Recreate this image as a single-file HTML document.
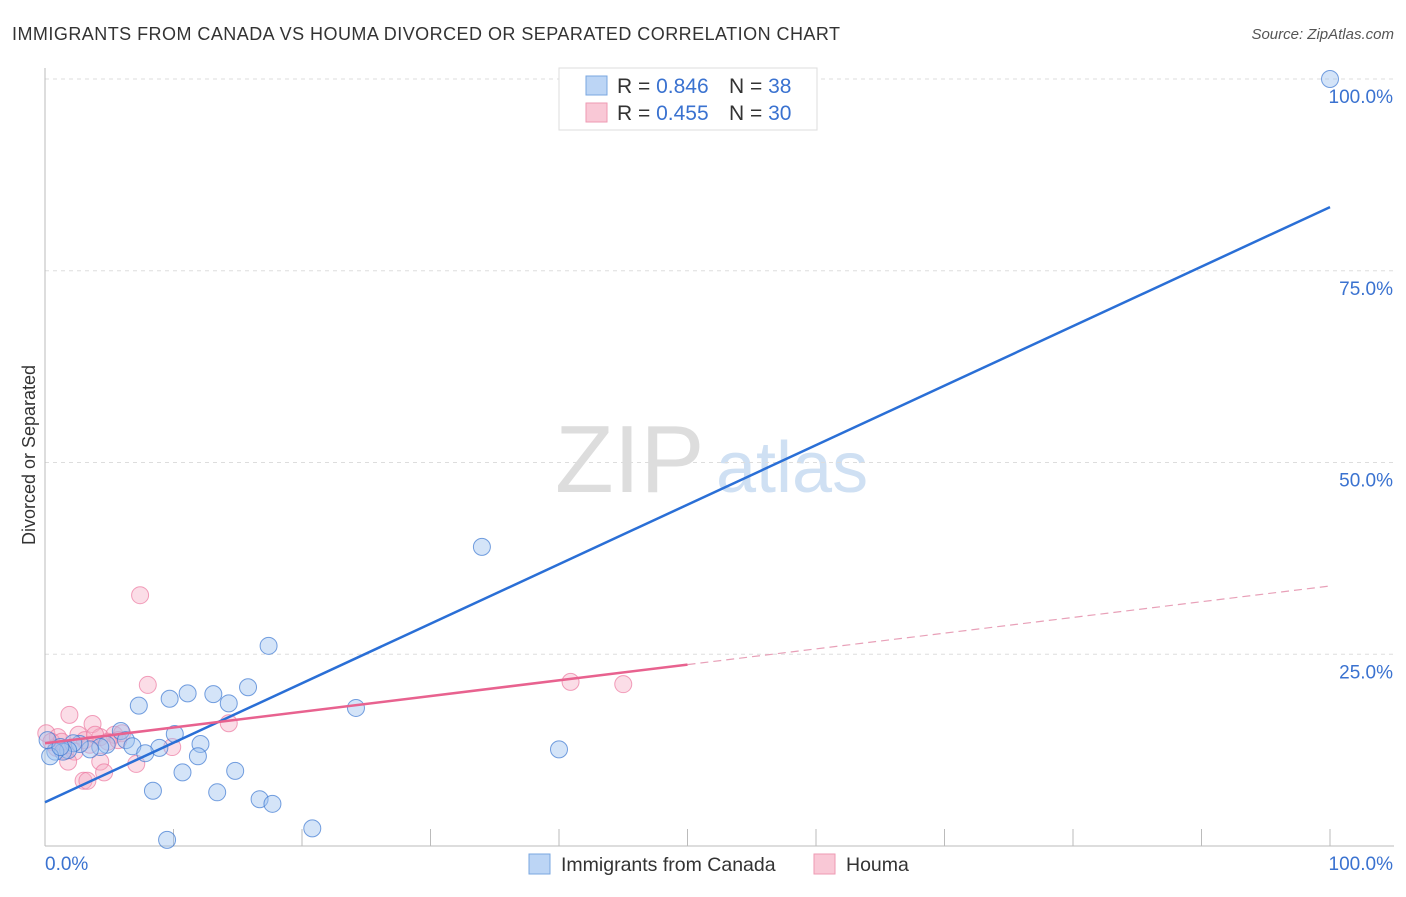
<!DOCTYPE html>
<html><head><meta charset="utf-8"><style>
body{margin:0;background:#fff;font-family:"Liberation Sans",sans-serif;}
svg text{font-family:"Liberation Sans",sans-serif;}
</style></head><body>
<svg id="chart" width="1406" height="892" xmlns="http://www.w3.org/2000/svg">
<text x="12" y="40" font-size="18" fill="#333" textLength="828">IMMIGRANTS FROM CANADA VS HOUMA DIVORCED OR SEPARATED CORRELATION CHART</text>
<text x="1394" y="39" font-size="15" fill="#555" font-style="italic" text-anchor="end">Source: ZipAtlas.com</text>
<text x="35" y="455" font-size="18" fill="#333" text-anchor="middle" transform="rotate(-90 35 455)">Divorced or Separated</text>
<text x="555" y="492" font-size="96" fill="#ddd" font-family="Liberation Serif">ZIP</text>
<text x="716" y="492" font-size="72" fill="#cfe0f3">atlas</text>
<g id="grid"></g><g id="pts"></g><g id="lines"></g>
<g>
<rect x="559" y="68" width="258" height="62" fill="#fff" stroke="#ddd"/>
<rect x="586" y="76" width="21" height="19" fill="#bcd5f5" stroke="#7aa7e0"/>
<rect x="586" y="103" width="21" height="19" fill="#f9c8d6" stroke="#ee9ab3"/>
<text x="617" y="93" font-size="21" fill="#333">R = <tspan fill="#3a72d0">0.846</tspan></text>
<text x="729" y="93" font-size="21" fill="#333">N = <tspan fill="#3a72d0">38</tspan></text>
<text x="617" y="120" font-size="21" fill="#333">R = <tspan fill="#3a72d0">0.455</tspan></text>
<text x="729" y="120" font-size="21" fill="#333">N = <tspan fill="#3a72d0">30</tspan></text>
</g>
<g>
<rect x="529" y="854" width="21" height="20" fill="#bcd5f5" stroke="#7aa7e0"/>
<text x="561" y="871" font-size="19.5" fill="#333">Immigrants from Canada</text>
<rect x="814" y="854" width="21" height="20" fill="#f9c8d6" stroke="#ee9ab3"/>
<text x="846" y="871" font-size="19.5" fill="#333">Houma</text>
</g>
</svg>
<script>
const canadaX=[100,34.0,17.4,40.0,24.2,15.8,11.1,13.1,9.7,7.3,14.3,10.1,12.1,5.9,6.3,6.8,8.9,7.8,11.9,10.7,14.8,8.4,13.4,16.7,17.7,20.8,9.5,4.8,4.3,3.5,2.7,2.2,1.8,1.4,0.8,0.4,0.2,1.2];
const canadaY=[100,39.0,26.1,12.6,18.0,20.7,19.9,19.8,19.2,18.3,18.6,14.6,13.3,15.0,13.8,13.0,12.8,12.1,11.7,9.6,9.8,7.2,7.0,6.1,5.5,2.3,0.8,13.2,12.9,12.6,13.3,13.4,12.5,12.3,12.3,11.7,13.8,12.9];
const houmaX=[7.4,8.0,1.9,3.7,14.3,0.1,1.0,2.6,4.3,5.4,6.0,3.1,4.9,0.9,1.6,2.3,3.5,9.9,1.8,4.3,4.6,3.0,3.3,7.1,40.9,45.0,0.5,1.3,5.7,3.9];
const houmaY=[32.7,21.0,17.1,15.9,16.0,14.7,14.2,14.5,14.2,14.5,14.7,13.8,13.6,12.8,12.4,12.3,13.2,12.9,11.0,11.0,9.6,8.5,8.5,10.7,21.4,21.1,13.6,13.6,13.8,14.5];
const yTicks=[25,50,75,100];
const yTickLabels=["25.0%","50.0%","75.0%","100.0%"];
const canadaTrend=[5.7,83.3];
const houmaTrend=[13.4,33.9];
const houmaSolidEnd=50;
const X=v=>45+v*12.85, Y=v=>846-v*7.67;
const NS="http://www.w3.org/2000/svg";
function mk(tag,attrs,parent){const e=document.createElementNS(NS,tag);for(const k in attrs)e.setAttribute(k,attrs[k]);document.getElementById(parent).appendChild(e);return e;}
yTicks.forEach((t,i)=>{
 const l=mk('line',{x1:45,x2:1394,y1:Y(t),y2:Y(t),stroke:'#ddd','stroke-dasharray':'4,4'},'grid');
 
 
 const tx=mk('text',{x:1393,y:Y(t)+24,'font-size':19,fill:'#3a72d0','text-anchor':'end'},'grid');
 tx.textContent=yTickLabels[i];
 
 
});
let ax=mk('line',{x1:45,x2:45,y1:68,y2:846,stroke:'#bbb'},'grid');


let bx=mk('line',{x1:45,x2:1394,y1:846,y2:846,stroke:'#bbb'},'grid');


for(let i=1;i<=10;i++){const t=mk('line',{x1:X(i*10),x2:X(i*10),y1:829,y2:846,stroke:'#bbb'},'grid');
 
 }
[[0,"0.0%",'start',45],[100,"100.0%",'end',1393]].forEach(a=>{const t=mk('text',{x:a[3],y:870,'font-size':19,fill:'#3a72d0','text-anchor':a[2]},'grid');t.textContent=a[1];
 
 });
houmaX.forEach((x,i)=>{const c=mk('circle',{cx:X(x),cy:Y(houmaY[i]),r:8.5,fill:'rgba(246,170,195,0.4)',stroke:'rgba(236,120,160,0.7)','stroke-width':1},'pts');
 
 });
canadaX.forEach((x,i)=>{const c=mk('circle',{cx:X(x),cy:Y(canadaY[i]),r:8.5,fill:'rgba(160,195,240,0.45)',stroke:'rgba(60,120,210,0.7)','stroke-width':1},'pts');
 
 });
let bl=mk('line',{x1:X(0),y1:Y(canadaTrend[0]),x2:X(100),y2:Y(canadaTrend[1]),stroke:'#2a6fd6','stroke-width':2.5},'lines');


const hm=houmaTrend[0]+(houmaTrend[1]-houmaTrend[0])*houmaSolidEnd/100;
let pl=mk('line',{x1:X(0),y1:Y(houmaTrend[0]),x2:X(houmaSolidEnd),y2:Y(hm),stroke:'#e8628f','stroke-width':2.5},'lines');


let pd=mk('line',{x1:X(houmaSolidEnd),y1:Y(hm),x2:X(100),y2:Y(houmaTrend[1]),stroke:'#e8a0b8','stroke-width':1.2,'stroke-dasharray':'8,5'},'lines');


</script>
</body></html>
